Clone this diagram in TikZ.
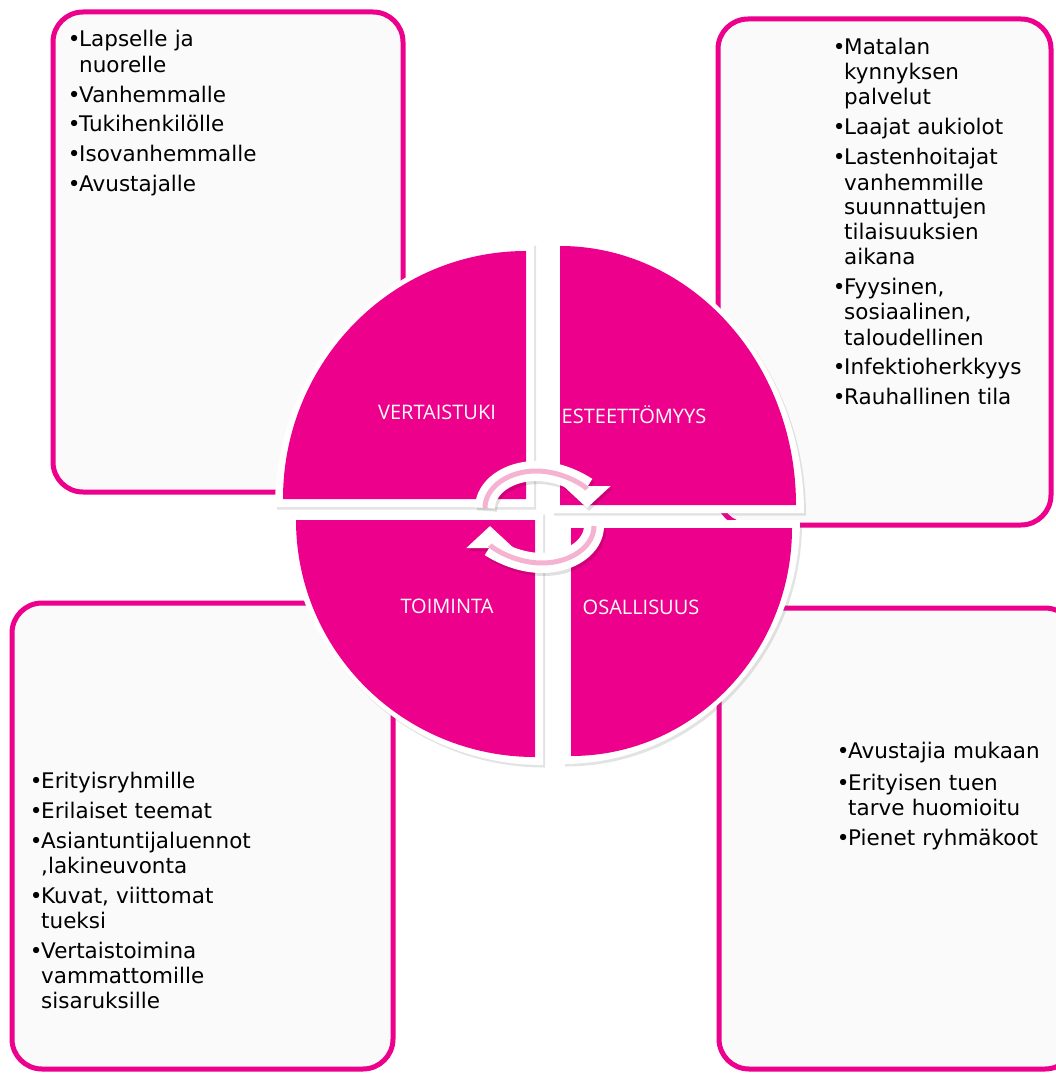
\documentclass[tikz,border=0pt]{standalone}
\usepackage{fontspec}
\setmainfont{DejaVu Sans}
\newfontfamily\labelfont{Open Sans}
\usetikzlibrary{arrows.meta}
\usetikzlibrary{shadows}
\definecolor{vpink}{HTML}{EC008C}
\definecolor{vlight}{HTML}{F6B3D1}
\definecolor{boxgray}{HTML}{FAFAFA}
\newcommand{\listfont}{\fontsize{21.5pt}{25pt}\selectfont}
\newcommand{\lst}{\leftskip=10pt\relax}
\newcommand{\bul}{\leavevmode\llap{\makebox[10pt][c]{•}}}

\begin{document}
\begin{tikzpicture}[x=1pt, y=-1pt,
    infobox/.style={draw=vpink, line width=5pt, fill=boxgray, rounded corners=30pt},
    listtext/.style={anchor=base west, inner sep=0pt, text width=330pt, font=\listfont},
    piecebase/.style={fill=white, drop shadow={shadow xshift=2pt, shadow yshift=-2.5pt, opacity=0.18, fill=black!60}},
    piece/.style={fill=vpink},
    qlabel/.style={anchor=base, inner sep=0pt, text=white, font=\labelfont\fontsize{20pt}{24pt}\selectfont},
    cycleshade/.style={draw=black, opacity=0.12, line width=20pt, -{Triangle[length=22pt, width=46pt]}},
    cyclearrow/.style={draw=white, line width=20pt, -{Triangle[length=22pt, width=46pt]}},
    cyclestripe/.style={draw=vlight, line width=5pt, shorten >=19pt}]
            \useasboundingbox (0,0) rectangle (1056,1073);
            \clip (0,0) rectangle (1056,1073);
            \fill[white] (0,0) rectangle (1056,1073);

            \draw[infobox] (53,12) rectangle (403,492);
            \draw[infobox] (718,19) rectangle (1051,525);
            \draw[infobox] (12,603) rectangle (393,1069);
            \draw[infobox] (719,608) rectangle (1075,1069);

            \node[listtext] (ryhmat) at (69,47) {\lst
                \bul Lapselle ja\\ nuorelle\\[5pt]
                \bul Vanhemmalle\\[5pt]
                \bul Tukihenkilölle\\[5pt]
                \bul Isovanhemmalle\\[5pt]
                \bul Avustajalle\par};
            \node[listtext] (saavutettavuus) at (834,55) {\lst
                \bul Matalan\\ kynnyksen\\ palvelut\\[5pt]
                \bul Laajat aukiolot\\[5pt]
                \bul Lastenhoitajat\\ vanhemmille\\ suunnattujen\\ tilaisuuksien\\ aikana\\[5pt]
                \bul Fyysinen,\\ sosiaalinen,\\ taloudellinen\\[5pt]
                \bul Infektioherkkyys\\[5pt]
                \bul Rauhallinen tila\par};
            \node[listtext] (sisalto) at (31,788) {\lst
                \bul Erityisryhmille\\[5pt]
                \bul Erilaiset teemat\\[5pt]
                \bul Asiantuntijaluennot\\ ,lakineuvonta\\[5pt]
                \bul Kuvat, viittomat\\ tueksi\\[5pt]
                \bul Vertaistoimina\\ vammattomille\\ sisaruksille\par};
            \node[listtext] (mukanaolo) at (838,758) {\lst
                \bul Avustajia mukaan\\[7pt]
                \bul Erityisen tuen\\ tarve huomioitu\\[5pt]
                \bul Pienet ryhmäkoot\par};

            \path[piecebase] (534,507) -- (275,507) arc[start angle=180, end angle=270, x radius=259, y radius=264] -- cycle;
            \path[piecebase] (552,513) -- (552,238) arc[start angle=270, end angle=360, x radius=252, y radius=275] -- cycle;
            \path[piecebase] (543,512) -- (288,512) arc[start angle=180, end angle=90, x radius=255, y radius=253] -- cycle;
            \path[piecebase] (563,520) -- (800,520) arc[start angle=0, end angle=90, x radius=237, y radius=244] -- cycle;
            \path[piece] (526,499) -- (283,499) arc[start angle=180, end angle=270, x radius=243, y radius=248] -- cycle;
            \path[piece] (560,505) -- (560,246) arc[start angle=270, end angle=360, x radius=236, y radius=259] -- cycle;
            \path[piece] (535,520) -- (296,520) arc[start angle=180, end angle=90, x radius=239, y radius=237] -- cycle;
            \path[piece] (571,528) -- (792,528) arc[start angle=0, end angle=90, x radius=221, y radius=228] -- cycle;

            \node[qlabel] (vertaistuki) at (437,419) {VERTAISTUKI};
            \node[qlabel] (esteettomyys) at (634,423) {ESTEETTÖMYYS};
            \node[qlabel] (toiminta) at (447,613) {TOIMINTA};
            \node[qlabel] (osallisuus) at (641,614) {OSALLISUUS};

            \draw[cycleshade] (487,511) arc[start angle=-180, end angle=0, x radius=51, y radius=37];
            \draw[cycleshade] (596,529) arc[start angle=0, end angle=180, x radius=52, y radius=37];
            \draw[cyclearrow] (485,508) arc[start angle=-180, end angle=0, x radius=51, y radius=37];
            \draw[cyclearrow] (594,526) arc[start angle=0, end angle=180, x radius=52, y radius=37];
            \draw[cyclestripe] (485,508) arc[start angle=-180, end angle=0, x radius=51, y radius=37];
            \draw[cyclestripe] (594,526) arc[start angle=0, end angle=180, x radius=52, y radius=37];
\end{tikzpicture}
\end{document}
